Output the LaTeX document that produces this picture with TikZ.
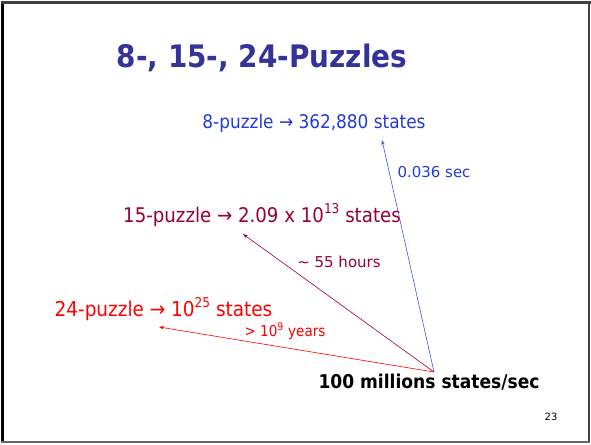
\documentclass[tikz,border=0pt]{standalone}
\usepackage{fontspec}
\setmainfont{DejaVu Sans}
\newfontfamily\narrowfont[FakeStretch=0.9]{DejaVu Sans}
\usetikzlibrary{arrows.meta}
\definecolor{titleblue}{RGB}{51,51,153}
\definecolor{pblue}{RGB}{35,60,210}
\definecolor{lblue}{RGB}{60,90,220}
\definecolor{maroon}{RGB}{153,0,51}
\definecolor{pred}{RGB}{255,0,0}
\newcommand{\upnum}[1]{\raisebox{0.42em}{\fontsize{13.5}{14}\selectfont #1}}
\tikzset{
  lbl/.style={inner sep=0pt, anchor=base},
  small/.style={lbl, font=\fontsize{15}{18}\selectfont},
  conn/.style={line width=0.6pt, -{Stealth[length=5pt,width=3.5pt]}},
}
\begin{document}
\begin{tikzpicture}[x=1pt,y=-1pt]
\useasboundingbox (0,0) rectangle (591,444);
\fill[white] (0,0) rectangle (591,444);
% frame
\draw[black, line width=3pt] (2.5,1) -- (2.5,443);
\draw[black!75, line width=3pt] (1,2.5) -- (591,2.5);
\draw[black!75, line width=1.6pt] (588.8,1) -- (588.8,443);
\draw[black!60, line width=1.6pt] (1,442.2) -- (590,442.2);
% title
\node[lbl, font=\narrowfont\fontsize{31}{36}\selectfont\bfseries, text=titleblue] (title) at (262,67) {8-, 15-, 24-Puzzles};
% texts
\node[lbl, font=\narrowfont\fontsize{18.8}{22}\selectfont, text=pblue] (p8) at (314,128) {8-puzzle → 362,880 states};
\node[lbl, font=\narrowfont\fontsize{20.2}{22}\selectfont, text=maroon] (p15) at (262,222) {15-puzzle → 2.09 x 10\upnum{13} states};
\node[lbl, font=\narrowfont\fontsize{20.5}{22}\selectfont, text=pred] (p24) at (163.5,316) {24-puzzle → 10\upnum{25} states};
\node[small, text=pblue] (t8) at (434,177) {0.036 sec};
\node[small, text=maroon] (t15) at (339,267) {\char`\~\ 55 hours};
\node[small, text=pred] (t24) at (285,336) {\narrowfont > 10\textsuperscript{9} years};
\node[lbl, font=\narrowfont\fontsize{19}{22}\selectfont\bfseries, text=black] (speed) at (429,388) {100 millions states/sec};
\node[lbl, font=\fontsize{10}{12}\selectfont, text=black] (num) at (551,420) {23};
% connectors
\coordinate (src) at (434,372);
\coordinate (e8) at (382,140);
\coordinate (e15) at (243,234);
\coordinate (e24) at (159,327);
\draw[conn, lblue] (src) -- (e8);
\draw[conn, maroon] (src) -- (e15);
\draw[conn, pred] (src) -- (e24);
\end{tikzpicture}
\end{document}
